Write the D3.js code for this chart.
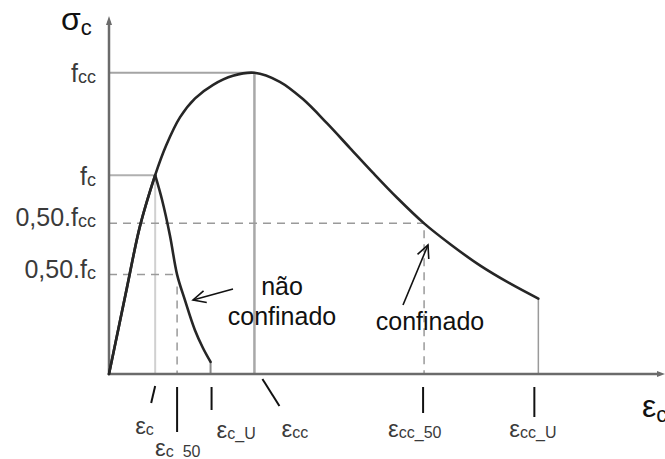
<!DOCTYPE html>
<html>
<head>
<meta charset="utf-8">
<script src="https://cdn.jsdelivr.net/npm/d3@7"></script>
<style>
  html, body { margin: 0; padding: 0; background: #fff; }
  svg { display: block; font-family: "Liberation Sans", Arial, sans-serif; }
</style>
</head>
<body>
<svg id="chart" width="665" height="459"></svg>
<script>
// Stress–strain curves of concrete: unconfined vs confined (strain in ‰, stress in MPa)
const confinedStrain = [0, 0.78, 1.34, 2.0, 2.47, 3.08, 3.73, 4.51, 5.37, 6.3, 7.4, 8.4, 9.44, 10.44, 11.44, 12.48, 13.65, 14.8, 16.1, 17.35, 18.6];
const confinedStress = [0, 11.5, 19.6, 26.4, 30.3, 34.1, 36.6, 38.4, 39.6, 40.0, 38.8, 36.5, 33.3, 30.0, 26.7, 23.4, 20.0, 17.2, 14.35, 12.05, 10.0];

const unconfinedStrain = [0, 0.78, 1.34, 2.0, 2.30, 2.64, 2.95, 3.29, 3.72, 4.07, 4.4];
const unconfinedStress = [0, 11.5, 19.6, 26.4, 23.1, 18.4, 13.2, 9.8, 5.84, 3.45, 1.6];

// Characteristic values
const fc = 26.4, fcc = 40.0;
const eps = { c: 2.0, c50: 2.95, cU: 4.4, cc: 6.3, cc50: 13.65, ccU: 18.6 };

// Strain tick labels (main symbol + subscript)
const strainTicks = [
  { key: "c",    sub: "c" },
  { key: "c50",  sub: "c_50" },
  { key: "cU",   sub: "c_U" },
  { key: "cc",   sub: "cc" },
  { key: "cc50", sub: "cc_50" },
  { key: "ccU",  sub: "cc_U" }
];

// Stress tick labels
const stressTicks = [
  { value: fcc,       main: "f",      sub: "cc" },
  { value: fc,        main: "f",      sub: "c" },
  { value: 0.5 * fcc, main: "0,50.f", sub: "cc" },
  { value: 0.5 * fc,  main: "0,50.f", sub: "c" }
];

const svg = d3.select("#chart");
const x = d3.scaleLinear().domain([0, 24]).range([109, 663]);
const y = d3.scaleLinear().domain([0, 47.4]).range([374, 17]);

const axisColor = "#6b6b6b";
const refColor = "#a4a4a4";
const textColor = "#3a3a3a";

// ---- Reference lines ----
const ref = svg.append("g").attr("fill", "none");
// fcc level and its strain
ref.append("line").attr("x1", x(0)).attr("x2", x(eps.cc)).attr("y1", y(fcc)).attr("y2", y(fcc))
  .attr("stroke", refColor).attr("stroke-width", 2);
ref.append("line").attr("x1", x(eps.cc)).attr("x2", x(eps.cc)).attr("y1", y(fcc)).attr("y2", y(0))
  .attr("stroke", "#a8a8a8").attr("stroke-width", 2.5);
// fc level and its strain
ref.append("line").attr("x1", x(0)).attr("x2", x(eps.c)).attr("y1", y(fc)).attr("y2", y(fc))
  .attr("stroke", "#b0b0b0").attr("stroke-width", 2);
ref.append("line").attr("x1", x(eps.c)).attr("x2", x(eps.c)).attr("y1", y(fc)).attr("y2", y(0))
  .attr("stroke", "#d0d0d0").attr("stroke-width", 2);
// 50% levels (dashed)
ref.append("path")
  .attr("d", `M${x(0)},${y(0.5 * fcc)}H${x(eps.cc50)}V${y(0)}`)
  .attr("stroke", "#9a9a9a").attr("stroke-width", 1.5).attr("stroke-dasharray", "8,6");
ref.append("path")
  .attr("d", `M${x(0)},${y(0.5 * fc)}H${x(eps.c50) - 4}`)
  .attr("stroke", "#9a9a9a").attr("stroke-width", 1.5).attr("stroke-dasharray", "8,6");
ref.append("line").attr("x1", x(eps.c50)).attr("x2", x(eps.c50)).attr("y1", y(0.5 * fc) + 12).attr("y2", y(0))
  .attr("stroke", "#9a9a9a").attr("stroke-width", 1.5).attr("stroke-dasharray", "8,6");
// ultimate strains
ref.append("line").attr("x1", x(eps.cU)).attr("x2", x(eps.cU))
  .attr("y1", y(unconfinedStress[unconfinedStress.length - 1])).attr("y2", y(0))
  .attr("stroke", "#8a8a8a").attr("stroke-width", 2);
ref.append("line").attr("x1", x(eps.ccU)).attr("x2", x(eps.ccU))
  .attr("y1", y(confinedStress[confinedStress.length - 1])).attr("y2", y(0))
  .attr("stroke", "#9a9a9a").attr("stroke-width", 1.5);

// ---- Axes with arrowheads ----
const axes = svg.append("g");
axes.append("line").attr("x1", x(0)).attr("x2", x(0)).attr("y1", y(0) + 1).attr("y2", y(47.4) + 4)
  .attr("stroke", axisColor).attr("stroke-width", 2.5);
axes.append("path")
  .attr("d", `M${x(0) - 3},${y(47.4) + 8}L${x(0)},${y(47.4) - 1}L${x(0) + 3},${y(47.4) + 8}Z`)
  .attr("fill", axisColor);
axes.append("line").attr("x1", x(0) - 1).attr("x2", x(24) - 3).attr("y1", y(0)).attr("y2", y(0))
  .attr("stroke", axisColor).attr("stroke-width", 2.5);
axes.append("path")
  .attr("d", `M${x(24) - 6},${y(0) - 3}L${x(24) + 2},${y(0)}L${x(24) - 6},${y(0) + 3}Z`)
  .attr("fill", axisColor);

// ---- Curves ----
const smooth = d3.line().x(d => x(d[0])).y(d => y(d[1])).curve(d3.curveCatmullRom.alpha(0.5));
const confined = d3.zip(confinedStrain, confinedStress);
const unconfined = d3.zip(unconfinedStrain, unconfinedStress);
const peakIdx = d3.maxIndex(unconfinedStress);

const curves = svg.append("g").attr("fill", "none").attr("stroke", "#262626")
  .attr("stroke-width", 2.6).attr("stroke-linejoin", "round").attr("stroke-linecap", "round");
curves.append("path").attr("d", smooth(unconfined.slice(0, peakIdx + 1)));
curves.append("path").attr("d", smooth(unconfined.slice(peakIdx)));
curves.append("path").attr("d", smooth(confined));

// ---- Stress labels ----
const yl = svg.append("g").attr("fill", textColor).attr("text-anchor", "end");
const stressBaseline = [9, 10, 3, 3];
stressTicks.forEach((t, i) => {
  const txt = yl.append("text").attr("x", 96).attr("y", y(t.value) + stressBaseline[i]);
  txt.append("tspan").attr("font-size", 25).text(t.main);
  txt.append("tspan").attr("font-size", 18).attr("dy", 1).text(t.sub);
});

// ---- Strain ticks and labels ----
// tick segment [dx1, y1, dx2, y2] and label [dx, baseline] relative to each strain value
const tickLayout = {
  c:    { seg: [0, 386, -4, 403],  lab: [-20, 434] },
  c50:  { seg: [0, 387, 0, 432],   lab: [-22, 456] },
  cU:   { seg: [1, 387, 1, 410],   lab: [6, 438] },
  cc:   { seg: [8, 379, 25, 406],  lab: [27, 437] },
  cc50: { seg: [-1, 387, -1, 413], lab: [-36, 437] },
  ccU:  { seg: [-4, 387, -4, 417], lab: [-29, 437] }
};
const xl = svg.append("g");
strainTicks.forEach(t => {
  const px = x(eps[t.key]);
  const L = tickLayout[t.key];
  xl.append("line")
    .attr("x1", px + L.seg[0]).attr("y1", L.seg[1])
    .attr("x2", px + L.seg[2]).attr("y2", L.seg[3])
    .attr("stroke", "#111").attr("stroke-width", 2);
  const txt = xl.append("text").attr("x", px + L.lab[0]).attr("y", L.lab[1]).attr("fill", textColor);
  txt.append("tspan").attr("font-size", 24).text("ε");
  txt.append("tspan").attr("font-size", 16).attr("dy", 1).text(t.sub);
});

// ---- Axis titles ----
const sig = svg.append("text").attr("x", 61).attr("y", 30).attr("fill", "#111");
sig.append("tspan").attr("font-size", 32).text("σ");
sig.append("tspan").attr("font-size", 22).attr("dy", 5).text("c");

const epsTitle = svg.append("text").attr("x", 642).attr("y", 417).attr("fill", "#111");
epsTitle.append("tspan").attr("font-size", 32).text("ε");
epsTitle.append("tspan").attr("font-size", 22).attr("dy", 5).text("c");

// ---- Annotations ----
const ann = svg.append("g").attr("fill", "#111").attr("font-size", 25).attr("text-anchor", "middle");
ann.append("text").attr("x", 282).attr("y", 295).text("não");
ann.append("text").attr("x", 282).attr("y", 325).text("confinado");
ann.append("text").attr("x", 430).attr("y", 330).text("confinado");

function arrow(x1, y1, x2, y2) {
  const a = Math.atan2(y2 - y1, x2 - x1), h = 14, w = 0.45;
  const g = svg.append("g").attr("fill", "none").attr("stroke", "#111").attr("stroke-width", 1.6);
  g.append("line").attr("x1", x1).attr("y1", y1).attr("x2", x2).attr("y2", y2);
  g.append("path").attr("d",
    `M${x2 - h * Math.cos(a - w)},${y2 - h * Math.sin(a - w)}L${x2},${y2}L${x2 - h * Math.cos(a + w)},${y2 - h * Math.sin(a + w)}`);
}
arrow(233, 289, 193, 300);
arrow(403, 305, 428, 245);
</script>
</body>
</html>
